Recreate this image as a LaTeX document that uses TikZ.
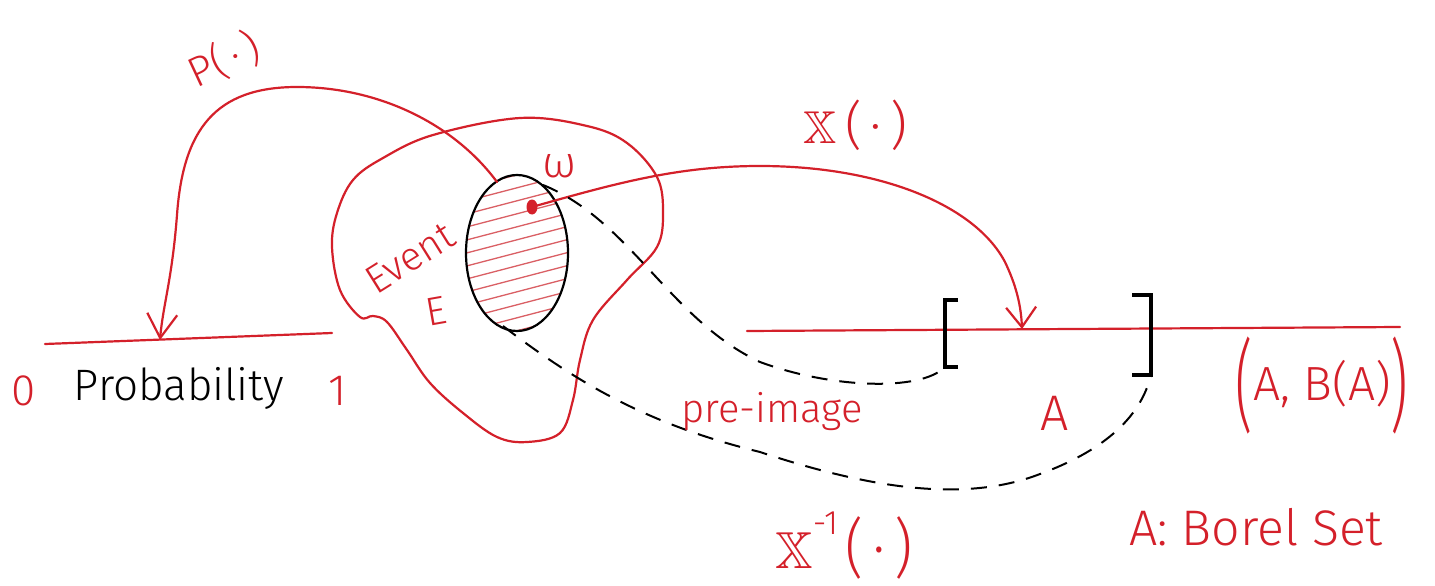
\documentclass[tikz,border=0pt]{standalone}
\usepackage{amssymb}
\usepackage{graphicx}
\usepackage{fontspec}
\setmainfont{Fira Sans Light}
\usetikzlibrary{arrows.meta}
\definecolor{pen}{RGB}{212,32,42}
\definecolor{hatchred}{RGB}{218,95,100}
\newcommand\handfont[1]{\fontsize{#1}{#1}\selectfont}
\newcommand\dbX[1]{\scalebox{#1}{\normalsize$\mathbb{X}$}}
\begin{document}
\begin{tikzpicture}[x=1pt,y=-1pt,
  redline/.style={draw=pen,line width=2.2pt,line cap=round},
  redarrow/.style={redline,-{Straight Barb[length=24pt,width=30pt,line width=2.2pt]}},
  blackline/.style={draw=black,line width=2.2pt},
  bracketline/.style={draw=black,line width=3.5pt},
  dashline/.style={draw=black,line width=2pt,dash pattern=on 16pt off 12pt},
  hatchline/.style={draw=hatchred,line width=1.3pt},
  redtext/.style={text=pen,inner sep=0pt},
  blacktext/.style={text=black,inner sep=0pt}]
\fill[white] (0,0) rectangle (1435,586);
\useasboundingbox (0,0) rectangle (1435,586);

% sample space blob
\draw[redline] plot[smooth cycle, tension=0.6] coordinates {
  (520,118) (587,126) (627,143) (657,177) (663,213) (657,247) (627,280)
  (593,320) (580,360) (573,400) (560,433) (527,442) (497,437) (463,413)
  (430,383) (407,350) (387,322) (373,316) (360,317) (340,290) (332,247)
  (337,213) (353,180) (383,158) (433,135)};

% event ellipse with hatching
\begin{scope}
  \clip (517,253) ellipse [x radius=51, y radius=78];
  \foreach \k in {0,...,14}
    \draw[hatchline] (455,{\k*13+178}) -- ++(130,-34);
\end{scope}
\draw[blackline] (517,253) ellipse [x radius=51, y radius=78];
\fill[pen] (532,207) ellipse [x radius=5.5, y radius=7.5];
\coordinate (omega) at (532,207);
\coordinate (pstart) at (497,182);
\coordinate (d1s) at (543,185);
\coordinate (d2s) at (503,326);

% probability axis
\coordinate (p0) at (45,344);
\coordinate (p1) at (332,333);
\coordinate (ptip) at (160,340);
\draw[redline] (p0) -- (p1);
\node[redtext,font=\handfont{44},anchor=base] (zero) at (24,405) {0};
\node[blacktext,font=\handfont{44},anchor=base] (prob) at (179,400) {Probability};
\node[redtext,font=\handfont{44},anchor=base] (one) at (338,405) {1};

% real line
\coordinate (r0) at (747,331);
\coordinate (r1) at (1400,327);
\coordinate (xtip) at (1022,329);
\draw[redline] (r0) -- (r1);

% brackets
\coordinate (b1top) at (945,300);
\coordinate (b1bot) at (945,367);
\coordinate (b2top) at (1151,295);
\coordinate (b2bot) at (1151,375);
\draw[bracketline] (958,300) -- (b1top) -- (b1bot) -- (958,367);
\draw[bracketline] (1132,295) -- (b2top) -- (b2bot) -- (1132,375);

% P arrow
\draw[redarrow] (pstart) .. controls (455,125) and (380,87) .. (297,87)
  .. controls (215,87) and (183,130) .. (177,215)
  .. controls (172,280) and (163,305) .. (ptip);

% X arrow
\draw[redline,-{Straight Barb[length=20pt,width=30pt,line width=2.2pt]}] (omega) .. controls (620,182) and (680,166) .. (760,166)
  .. controls (880,166) and (975,205) .. (1005,262)
  .. controls (1016,285) and (1021,305) .. (xtip);

% pre-image dashed curves
\draw[dashline] (d1s) .. controls (630,220) and (670,320) .. (760,362)
  .. controls (830,388) and (920,392) .. (b1bot);
\draw[dashline] (d2s) .. controls (580,385) and (650,425) .. (760,452)
  .. controls (860,485) and (960,505) .. (1040,474)
  .. controls (1100,452) and (1140,420) .. (b2bot);

% labels
\node[redtext,font=\handfont{42},rotate=25] (plabel) at (224,60) {P(\,·\,)};
\node[redtext,font=\handfont{40},rotate=32] (event) at (410,258) {Event};
\node[redtext,font=\handfont{40},rotate=10] (elabel) at (436,311) {E};
\node[redtext,font=\handfont{44}] (omlabel) at (560,166) {ω};
\node[redtext,font=\handfont{52},anchor=base west] (xlabel) at (803,143)
  {\dbX{4.6}\,(\,·\,)};
\node[redtext,font=\handfont{40},anchor=base] (pre) at (772,422) {pre-image};
\node[redtext,font=\handfont{50},anchor=base] (alabel) at (1055,430) {A};
\node[redtext,font=\handfont{48},anchor=base] (borelpair) at (1322,400)
  {\raisebox{-20pt}{\scalebox{1}[1.85]{\handfont{54}(}}A, B(A)\raisebox{-20pt}{\scalebox{1}[1.85]{\handfont{54})}}};
\node[redtext,font=\handfont{50},anchor=base] (borel) at (1256,545) {A: Borel Set};
\node[redtext,font=\handfont{46},anchor=base west] (xinv) at (775,568)
  {\dbX{5.2}\raisebox{34pt}{\handfont{34}-1}\,\raisebox{-2pt}{\scalebox{1}[1.15]{\handfont{56}(\,·\,)}}};
\end{tikzpicture}
\end{document}
